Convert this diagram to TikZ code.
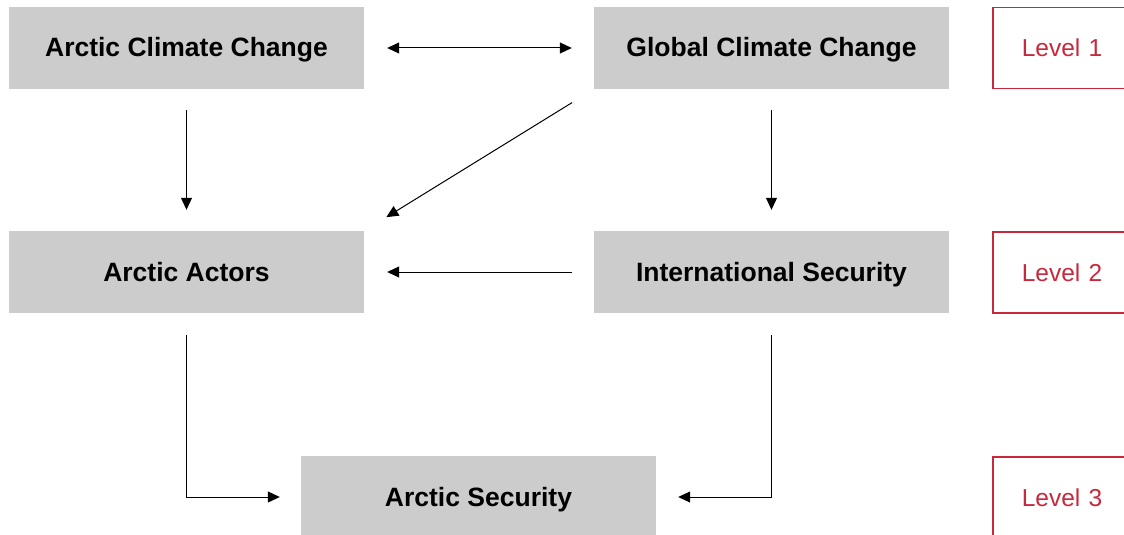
\documentclass[tikz,border=0pt]{standalone}
\usepackage{fontspec}
\setmainfont{Liberation Sans}
\usetikzlibrary{arrows.meta}
\definecolor{boxgray}{HTML}{CCCCCC}
\definecolor{lvlred}{HTML}{C8283C}
\tikzset{
  gbox/.style={fill=boxgray, minimum width=355pt, minimum height=82pt, inner sep=0pt,
    text height=19pt, text depth=1pt,
    font=\fontsize{26.5}{30}\selectfont\bfseries, text=black},
  lvl/.style={draw=lvlred, line width=1.6pt, minimum width=138pt, minimum height=81pt, inner sep=0pt,
    text height=18pt, text depth=0pt,
    font=\fontsize{24.5}{30}\selectfont, text=lvlred},
  arr/.style={draw=black, line width=1pt, -{Triangle[length=12pt,width=11pt]}},
  darr/.style={draw=black, line width=1pt, {Triangle[length=12pt,width=11pt]}-{Triangle[length=12pt,width=11pt]}}
}
\begin{document}
\begin{tikzpicture}[x=1pt,y=-1pt]
\useasboundingbox (0,0) rectangle (1124,535);
\begin{scope}
\clip (0,0) rectangle (1124,535);
\node[gbox] (acc) at (186.5,48) {Arctic Climate Change};
\node[gbox] (gcc) at (771.5,48) {Global Climate Change};
\node[gbox] (aa) at (186.5,272) {Arctic Actors};
\node[gbox] (is) at (771.5,272) {International Security};
\node[gbox] (as) at (478.5,497) {Arctic Security};
\node[lvl, text width=138pt, align=center] (l1) at (1062,48) {Level 1};
\node[lvl, text width=138pt, align=center] (l2) at (1062,272.5) {Level 2};
\node[lvl, text width=138pt, align=center] (l3) at (1062,497.5) {Level 3};
\end{scope}
\draw[darr, shorten <=23pt, shorten >=22pt] (acc.east) -- (gcc.west);
\draw[arr, shorten <=21pt, shorten >=21pt] (acc.south) -- (aa.north);
\draw[arr, shorten <=21pt, shorten >=21pt] (gcc.south) -- (is.north);
\draw[arr, shorten <=25.5pt, shorten >=26pt] (gcc.south west) -- (aa.north east);
\draw[arr, shorten <=22pt, shorten >=23pt] (is.west) -- (aa.east);
\draw[arr, shorten <=22pt, shorten >=21pt] (aa.south) |- (as.west);
\draw[arr, shorten <=22pt, shorten >=22pt] (is.south) |- (as.east);
\end{tikzpicture}
\end{document}
